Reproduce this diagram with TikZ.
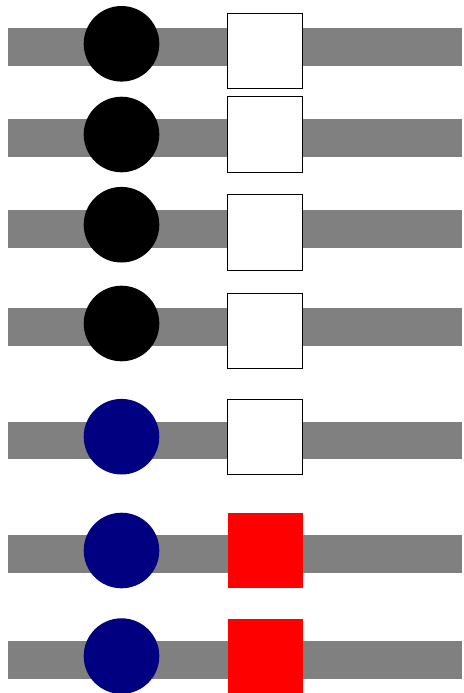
\documentclass[tikz,border=0pt]{standalone}
\definecolor{bargray}{RGB}{128,128,128}
\definecolor{dotnavy}{RGB}{0,0,128}
\tikzset{
  bar/.style={fill=bargray},
  dot/.style={circle,inner sep=0pt,outer sep=0pt,minimum size=75.6pt},
  blackdot/.style={dot,fill=black},
  navydot/.style={dot,fill=dotnavy},
  box/.style={rectangle,inner sep=0pt,outer sep=0pt,minimum size=75.2pt},
  whitebox/.style={box,draw=black,fill=white,line width=0.9pt},
  redbox/.style={box,fill=red},
}
\begin{document}
\begin{tikzpicture}[x=1pt,y=-1pt]
\useasboundingbox (0,0) rectangle (463,693);
% bars
\fill[bar] (8,28.3) rectangle (461.7,66);
\fill[bar] (8,119) rectangle (461.7,156.7);
\fill[bar] (8,210) rectangle (461.7,247.7);
\fill[bar] (8,308.3) rectangle (461.7,346);
\fill[bar] (8,421.7) rectangle (461.7,459.3);
\fill[bar] (8,535) rectangle (461.7,572.7);
\fill[bar] (8,641) rectangle (461.7,678.7);
% circles
\node[blackdot] (c1) at (121.5,43.8) {};
\node[blackdot] (c2) at (121.5,134.5) {};
\node[blackdot] (c3) at (121.5,224.7) {};
\node[blackdot] (c4) at (121.5,323.5) {};
\node[navydot] (c5) at (121.5,436.7) {};
\node[navydot] (c6) at (121.5,550.5) {};
\node[navydot] (c7) at (121.5,656.1) {};
% squares
\node[whitebox] (s1) at (265.3,51.3) {};
\node[whitebox] (s2) at (265.3,134.5) {};
\node[whitebox] (s3) at (265.3,232.5) {};
\node[whitebox] (s4) at (265.3,331.2) {};
\node[whitebox] (s5) at (265.3,436.7) {};
\node[redbox] (s6) at (265.3,550.3) {};
\node[redbox] (s7) at (265.3,656.1) {};
\end{tikzpicture}
\end{document}
